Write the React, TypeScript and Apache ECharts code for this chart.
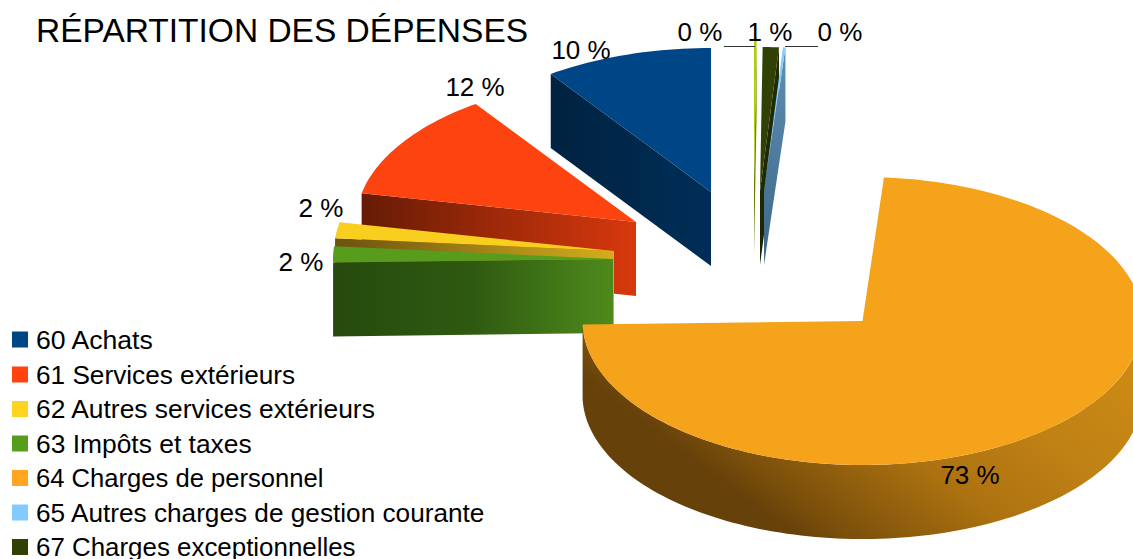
import React, { useEffect, useRef } from "react";
import * as echarts from "echarts";

const titleText = "RÉPARTITION DES DÉPENSES";
const categories = [
  "60 Achats",
  "61 Services extérieurs",
  "62 Autres services extérieurs",
  "63 Impôts et taxes",
  "64 Charges de personnel",
  "65 Autres charges de gestion courante",
  "67 Charges exceptionnelles",
  "68",
];
const legendCount = 7;
// percentage shares, anticlockwise from 12 o'clock
const values = [9.7, 12.1, 1.8, 1.8, 73.38, 0.14, 0.93, 0.15];

const topColors = ["#004586", "#fd430f", "#f9cf1f", "#589c1d", "#f5a31a", "#83caff", "#314004", "#aecf00"];
const legendColors = ["#004586", "#ff420e", "#ffd320", "#579d1c", "#ffa51f", "#83caff", "#314004", "#aecf00"];
const legendFontSizes = [26.6, 26.2, 26.4, 26.4, 25.6, 26.2, 25.9];
const wallColors = [
  ["#002240", "#002e58"],
  ["#661b05", "#d8380d"],
  ["#6b520f", "#d4ae1d"],
  ["#264a0d", "#2f5a11", "#4e8a1b"],
  ["#664109", "#cc8a14"],
  ["#3d6785", "#5f8fb6"],
  ["#1c2602", "#222d03"],
  ["#5f7000", "#7f9600"],
];
// later entries are painted over earlier ones
const paintOrder = [0, 1, 2, 3, 4, 7, 6, 5];

// pie layout
const CX = 757;
const CY = 266;
const RX = 280;
const RY = 144;
const DEPTH = 74;
const explodeOffsets = [
  [-46, -74], [-121, -44], [-143, -15], [-144, -7],
  [105.5, 55], [7, -75], [3, -75], [-3, -85],
];
const labelAnchors = [
  [581, 50], [475, 87], [321, 208], [301, 262],
  [970, 475], [840, 32], [770, 32], [700, 32],
];
const leaderLines: Record<number, number[]> = {
  5: [785, 46.5, 818, 46.5],
  7: [724, 46.5, 755, 46.5],
};

const rim = (ax: number, ay: number, deg: number, dy = 0) => {
  const r = (deg * Math.PI) / 180;
  return [ax - RX * Math.sin(r), ay - RY * Math.cos(r) + dy];
};
const arcPts = (ax: number, ay: number, a0: number, a1: number, dy = 0) => {
  const n = Math.max(2, Math.ceil((a1 - a0) / 1.5));
  const out: number[][] = [];
  for (let i = 0; i <= n; i++) out.push(rim(ax, ay, a0 + ((a1 - a0) * i) / n, dy));
  return out;
};
const cumulative = values.reduce<number[]>((acc, v) => [...acc, acc[acc.length - 1] + v], [0]);
const total = cumulative[cumulative.length - 1];

function wallGradient(i: number, ax: number, ay: number) {
  if (i === 4) {
    const x0 = ax - 163;
    const y0 = ay + 199;
    return new echarts.graphic.LinearGradient(
      x0, y0, x0 + 300, y0 - 400,
      [
        { offset: 0, color: "#664109" },
        { offset: 0.09, color: "#664109" },
        { offset: 0.15, color: "#7a4f0b" },
        { offset: 0.36, color: "#ad7210" },
        { offset: 0.55, color: "#c08115" },
        { offset: 0.75, color: "#cc8a14" },
        { offset: 1, color: "#cc8a14" },
      ],
      true
    );
  }
  const vertical = i >= 5;
  const colors = wallColors[i];
  return new echarts.graphic.LinearGradient(
    0, vertical ? 1 : 0, vertical ? 0 : 1, 0,
    colors.map((color, k) => ({ offset: k / (colors.length - 1), color }))
  );
}

function makeRenderItem(i: number) {
  return (_params: any, api: any) => {
    const share = (api.value(0) as number) / total;
    const a0 = (cumulative[i] / total) * 360;
    const a1 = a0 + share * 360;
    const ax = CX + explodeOffsets[i][0];
    const ay = CY + explodeOffsets[i][1];
    const fill = wallGradient(i, ax, ay);
    const children: any[] = [];
    const quad = (deg: number) => [
      [ax, ay],
      rim(ax, ay, deg),
      rim(ax, ay, deg, DEPTH),
      [ax, ay + DEPTH],
    ];
    // radial cut faces that look towards the viewer
    if (Math.sin((a0 * Math.PI) / 180) < -1e-6) {
      children.push({ type: "polygon", shape: { points: quad(a0) }, style: { fill } });
    }
    if (Math.sin((a1 * Math.PI) / 180) > 1e-6) {
      children.push({ type: "polygon", shape: { points: quad(a1) }, style: { fill } });
    }
    // curved outer wall
    const w0 = Math.max(a0, 90);
    const w1 = Math.min(a1, 270);
    if (w1 > w0) {
      const pts = [...arcPts(ax, ay, w0, w1), ...arcPts(ax, ay, w0, w1, DEPTH).reverse()];
      children.push({ type: "polygon", shape: { points: pts }, style: { fill } });
    }
    // top face
    children.push({
      type: "polygon",
      shape: { points: [[ax, ay], ...arcPts(ax, ay, a0, a1)] },
      style: { fill: topColors[i] },
    });
    // label and leader
    const lead = leaderLines[i];
    if (lead) {
      children.push({
        type: "line",
        shape: { x1: lead[0], y1: lead[1], x2: lead[2], y2: lead[3] },
        style: { stroke: "#333333", lineWidth: 1 },
      });
    }
    children.push({
      type: "text",
      x: labelAnchors[i][0],
      y: labelAnchors[i][1],
      style: {
        text: `${Math.round(api.value(0))} %`,
        fontSize: 26,
        fontFamily: "Liberation Sans",
        fill: "#000000",
        align: "center",
        verticalAlign: "middle",
      },
    });
    return { type: "group", children };
  };
}

export default function App() {
  const ref = useRef<HTMLDivElement>(null);
  useEffect(() => {
    document.body.style.margin = "0";
    const chart = echarts.init(ref.current!, null, { renderer: "svg" });
    chart.setOption({
      animation: false,
      backgroundColor: "#ffffff",
      title: {
        text: titleText,
        left: 36,
        top: 13,
        padding: 0,
        textStyle: { fontSize: 33.5, fontWeight: "normal", color: "#000000", fontFamily: "Liberation Sans" },
      },
      legend: {
        orient: "vertical",
        left: 12,
        top: 326,
        height: 300,
        padding: 0,
        icon: "rect",
        itemWidth: 16,
        itemHeight: 16,
        itemGap: 8.5,
        selectedMode: false,
        textStyle: { fontSize: 26.2, color: "#000000", fontFamily: "Liberation Sans", padding: [0, 0, 0, 3] },
        data: categories.slice(0, legendCount).map((name, i) => ({
          name,
          itemStyle: { color: legendColors[i] },
          textStyle: {
            fontSize: legendFontSizes[i],
            lineHeight: 26,
            color: "#000000",
            fontFamily: "Liberation Sans",
            padding: [0, 0, 0, 3],
          },
        })),
      },
      series: categories.map((name, i) => ({
        type: "custom",
        name,
        coordinateSystem: "none",
        silent: true,
        z: 2 + paintOrder.indexOf(i),
        itemStyle: { color: legendColors[i] },
        data: [[values[i]]],
        renderItem: makeRenderItem(i),
      })),
    });
    return () => chart.dispose();
  }, []);
  return <div ref={ref} style={{ width: 1133, height: 559 }} />;
}
